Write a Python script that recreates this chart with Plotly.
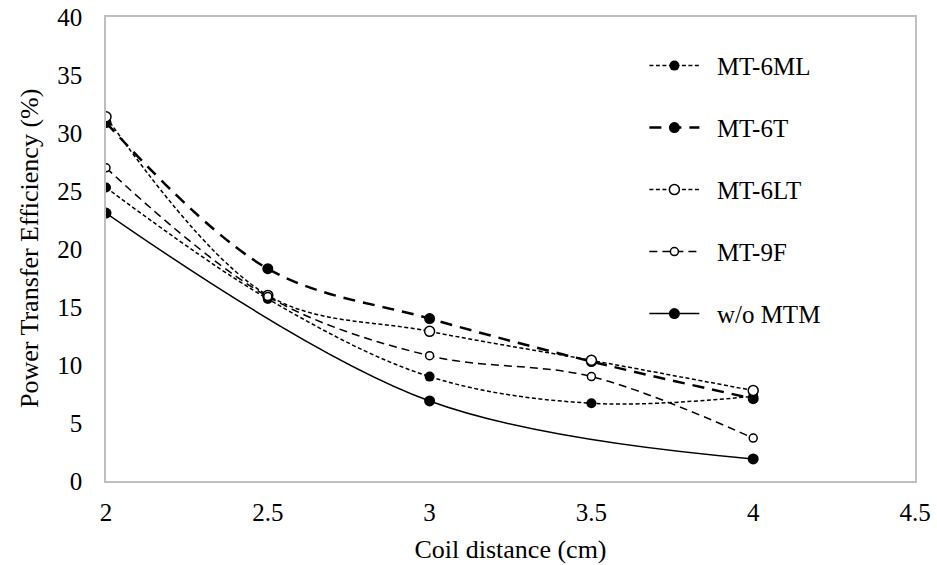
import plotly.graph_objects as go

# Data
x_all = [2, 2.5, 3, 3.5, 4]
mt_6ml = [25.3, 15.7, 9.0, 6.7, 7.3]
mt_6t = [30.9, 18.3, 14.0, 10.3, 7.1]
mt_6lt = [31.4, 16.0, 12.9, 10.4, 7.8]
mt_9f = [27.0, 15.9, 10.8, 9.0, 3.7]
x_wo = [2, 3, 4]
wo_mtm = [23.1, 6.9, 1.9]

x_ticks = [2, 2.5, 3, 3.5, 4, 4.5]
x_ticktext = ["2", "2.5", "3", "3.5", "4", "4.5"]
y_ticks = [0, 5, 10, 15, 20, 25, 30, 35, 40]

FONT = "Liberation Serif"
PAD = "\u00a0\u00a0"

fig = go.Figure()

fig.add_trace(go.Scatter(
    x=x_all, y=mt_6ml, name=PAD + "MT-6ML", mode="lines+markers", legendgroup="a",
    line=dict(color="black", width=1.5, dash="4px,2.5px", shape="spline"),
    marker=dict(symbol="circle", size=10, color="black"),
))
fig.add_trace(go.Scatter(
    x=x_all, y=mt_6t, name=PAD + "MT-6T", mode="lines+markers", legendgroup="b",
    line=dict(color="black", width=2.5, dash="12px,8px", shape="spline"),
    marker=dict(symbol="circle", size=11, color="black"),
))
fig.add_trace(go.Scatter(
    x=x_all, y=mt_6lt, name=PAD + "MT-6LT", mode="lines+markers", legendgroup="c",
    line=dict(color="black", width=1.5, dash="4px,2.5px", shape="spline"),
    marker=dict(symbol="circle", size=10, color="white", line=dict(color="black", width=1.5)),
))
fig.add_trace(go.Scatter(
    x=x_all, y=mt_9f, name=PAD + "MT-9F", mode="lines+markers", legendgroup="d",
    line=dict(color="black", width=1.5, dash="8px,5px", shape="spline"),
    marker=dict(symbol="circle", size=8, color="white", line=dict(color="black", width=1.5)),
))
fig.add_trace(go.Scatter(
    x=x_wo, y=wo_mtm, name=PAD + "w/o MTM", mode="lines+markers", legendgroup="e",
    line=dict(color="black", width=1.5, shape="spline"),
    marker=dict(symbol="circle", size=11, color="black"),
))

fig.update_layout(
    width=937, height=565,
    margin=dict(l=106, r=22, t=17, b=84),
    paper_bgcolor="white", plot_bgcolor="white",
    font=dict(family=FONT, size=25, color="black"),
    showlegend=True,
    legend=dict(
        x=0.6655, xanchor="left", y=0.9443, yanchor="top",
        font=dict(family=FONT, size=25, color="black"),
        bgcolor="rgba(0,0,0,0)", tracegroupgap=26.5, itemwidth=50,
    ),
    annotations=[dict(
        text="Power Transfer Efficiency (%)", textangle=-90,
        xref="paper", yref="paper", x=-77 / 809, y=0.5,
        xanchor="center", yanchor="middle", showarrow=False,
        font=dict(family=FONT, size=26, color="black"),
    )],
)

fig.update_xaxes(
    range=[2, 4.5], tickvals=x_ticks, ticktext=x_ticktext,
    showgrid=False, zeroline=False, automargin=False,
    showline=True, mirror=True, linecolor="#bfbfbf", linewidth=1.5,
    ticks="", ticklabelstandoff=8, ticklabeloverflow="allow",
    tickfont=dict(family=FONT, size=25, color="black"),
    title=dict(text="Coil distance (cm)", font=dict(family=FONT, size=26, color="black")),
)
fig.update_yaxes(
    range=[0, 40], tickvals=y_ticks,
    showgrid=False, zeroline=False, automargin=False,
    showline=True, mirror=True, linecolor="#bfbfbf", linewidth=1.5,
    ticks="", ticklabelstandoff=17, ticklabeloverflow="allow",
    tickfont=dict(family=FONT, size=25, color="black"),
)

fig.write_html(
    "out.html",
    config={"displayModeBar": False},
    post_script="document.body.style.margin='0';document.body.style.overflow='hidden';",
)
